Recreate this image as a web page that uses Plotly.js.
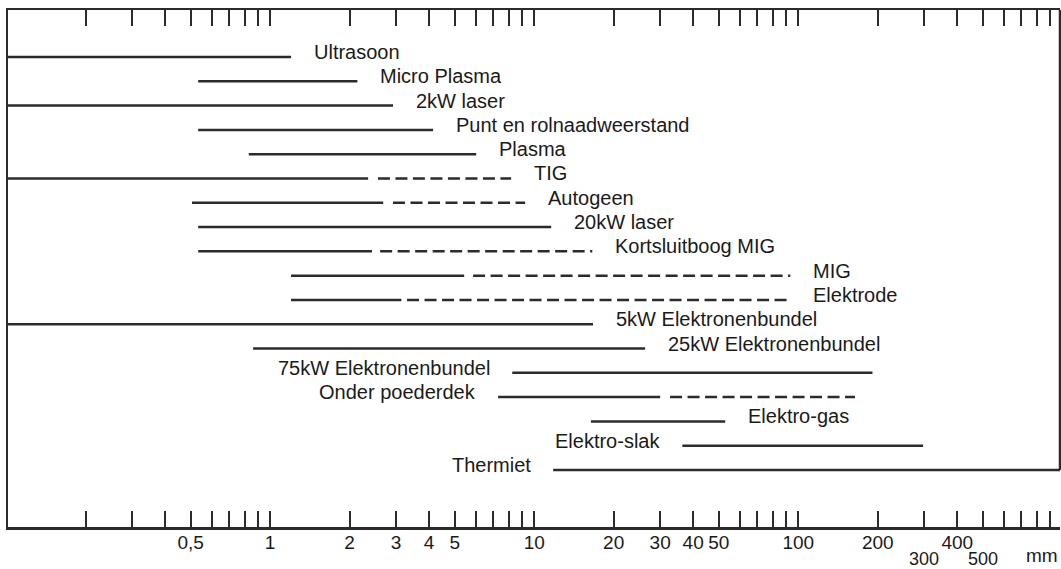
<!DOCTYPE html>
<html><head><meta charset="utf-8">
<script src="https://cdn.plot.ly/plotly-3.0.1.min.js"></script>
<style>html,body{margin:0;padding:0;background:#fff}#chart{width:1061px;height:569px}</style>
</head><body><div id="chart"></div>
<script>
// ---- data (material thickness ranges in mm) ----
const processes = ['Ultrasoon','Micro Plasma','2kW laser','Punt en rolnaadweerstand','Plasma','TIG','Autogeen','20kW laser','Kortsluitboog MIG','MIG','Elektrode','5kW Elektronenbundel','25kW Elektronenbundel','75kW Elektronenbundel','Onder poederdek','Elektro-gas','Elektro-slak','Thermiet'];
const solidStart = [0.1, 0.534, 0.1, 0.534, 0.83, 0.1, 0.506, 0.534, 0.534, 1.2, 1.2, 0.1, 0.862, 8.26, 7.3, 16.4, 36.4, 11.8];
const solidEnd   = [1.2, 2.14, 2.92, 4.14, 6.03, 2.35, 2.68, 11.6, 2.43, 5.43, 3.14, 16.7, 26.3, 191, 30.0, 52.9, 297, 1000];
const dashStart  = [null, null, null, null, null, 2.56, 2.92, null, 2.61, 5.87, 3.30, null, null, null, 32.7, null, null, null];
const dashEnd    = [null, null, null, null, null, 8.18, 9.24, null, 16.6, 93.3, 93.3, null, null, null, 164, null, null, null];
const tickValues = [0.2,0.3,0.4,0.5,0.6,0.7,0.8,0.9,1,2,3,4,5,6,7,8,9,10,20,30,40,50,60,70,80,90,100,200,300,400,500,600,700,800,900];
const tickLabelText = {0.5:'0,5', 1:'1', 2:'2', 3:'3', 4:'4', 5:'5', 10:'10', 20:'20', 30:'30', 40:'40', 50:'50', 100:'100', 200:'200', 400:'400'};
const lowerTickLabels = [300, 500];
const unitLabel = 'mm';
const labelsBefore = ['75kW Elektronenbundel','Onder poederdek','Elektro-slak','Thermiet'];

// ---- build ----
const INK = '#2b2b2b';
const TXT = '#1a1a1a';
const FONT = 'Liberation Sans, Arial, Helvetica, sans-serif';
function segs(starts, ends){
  const x=[], y=[];
  processes.forEach((p,i)=>{
    if(starts[i]==null) return;
    x.push(starts[i], ends[i], null); y.push(p, p, null);
  });
  return {x, y};
}
const s = segs(solidStart, solidEnd), d = segs(dashStart, dashEnd);
const traces = [
  {type:'scatter', mode:'lines', x:s.x, y:s.y, line:{color:INK, width:2.5}, connectgaps:false, hoverinfo:'skip'},
  {type:'scatter', mode:'lines', x:d.x, y:d.y, line:{color:INK, width:2.5, dash:'12px,5.5px'}, connectgaps:false, hoverinfo:'skip'}
];
const annotations = processes.map((p,i)=>{
  const before = labelsBefore.includes(p);
  const end = dashEnd[i]!=null ? dashEnd[i] : solidEnd[i];
  return {text:p, xref:'x', yref:'y', x: Math.log10(before ? solidStart[i] : end), y:p,
    xanchor: before ? 'right':'left', xshift: before ? -20 : 21, yanchor:'middle', yshift:5,
    showarrow:false, font:{family:FONT, size:20, color:TXT}};
});
lowerTickLabels.forEach(v=>annotations.push({text:String(v), xref:'x', yref:'paper', x:Math.log10(v), y:0,
  xanchor:'center', yanchor:'middle', yshift:-32, showarrow:false, font:{family:FONT, size:18, color:TXT}}));
annotations.push({text:unitLabel, xref:'paper', yref:'paper', x:1, y:0, xanchor:'right', yanchor:'middle', yshift:-28,
  showarrow:false, font:{family:FONT, size:19, color:TXT}});

const layout = {
  width:1061, height:569, margin:{l:8, r:1, t:10, b:42},
  paper_bgcolor:'#fff', plot_bgcolor:'#fff', showlegend:false,
  xaxis:{type:'log', range:[Math.log10(0.1017), Math.log10(980)], tickvals:tickValues,
    ticktext:tickValues.map(v=>tickLabelText[v]||''), ticks:'inside', ticklen:16, tickwidth:2, tickcolor:INK,
    showline:true, linewidth:2.5, linecolor:INK, mirror:'ticks', showgrid:false, zeroline:false,
    ticklabelstandoff:-3,
    tickfont:{family:FONT, size:19, color:TXT}, fixedrange:true},
  yaxis:{type:'category', categoryarray:processes, categoryorder:'array', range:[19.347, -1.935],
    showticklabels:false, ticks:'', showline:true, linewidth:2.5, linecolor:INK, mirror:false,
    showgrid:false, zeroline:false, fixedrange:true},
  shapes:[{type:'line', xref:'paper', yref:'y', x0:1, x1:1, y0:-1.935, y1:processes[processes.length-1],
    line:{color:INK, width:2.5}}],
  annotations
};
Plotly.newPlot('chart', traces, layout, {staticPlot:true, displayModeBar:false});
</script></body></html>
